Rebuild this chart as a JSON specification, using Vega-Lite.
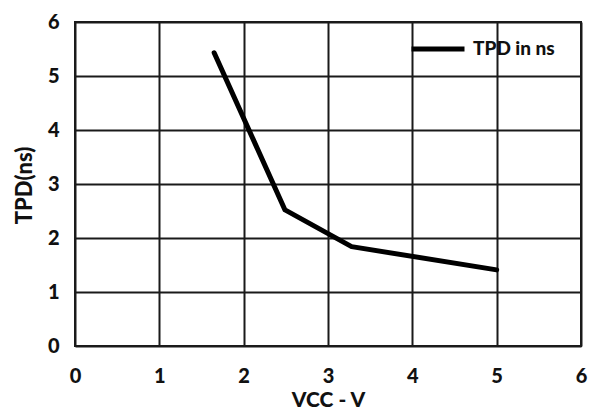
{
  "$schema": "https://vega.github.io/schema/vega-lite/v6.json",
  "width": 506,
  "height": 324,
  "autosize": {"type": "none"},
  "padding": {"left": 75, "top": 22, "right": 16, "bottom": 66},
  "background": "white",
  "config": {
    "font": "Lato",
    "view": {"stroke": "#1a1a1a", "strokeWidth": 2},
    "axis": {"gridColor": "#1a1a1a", "gridWidth": 2, "gridOpacity": 1, "domain": false, "ticks": false,
      "labelFont": "Lato", "labelFontWeight": 900, "labelFontSize": 20, "labelColor": "#111",
      "titleFont": "Lato", "titleFontWeight": 900, "titleFontSize": 22, "titleColor": "#111"}
  },
  "data": {"values": [
    {"vcc": 1.65, "tpd": 5.43, "series": "TPD in ns"},
    {"vcc": 2.49, "tpd": 2.52, "series": "TPD in ns"},
    {"vcc": 3.28, "tpd": 1.84, "series": "TPD in ns"},
    {"vcc": 5.0, "tpd": 1.41, "series": "TPD in ns"}
  ]},
  "mark": {"type": "line", "strokeWidth": 5, "strokeCap": "round", "strokeJoin": "round"},
  "encoding": {
    "x": {"field": "vcc", "type": "quantitative", "title": "VCC - V",
      "scale": {"domain": [0, 6], "nice": false, "zero": false},
      "axis": {"values": [0,1,2,3,4,5,6], "labelPadding": 20, "titleY": 64, "titleBaseline": "bottom", "titleFontSize": 21, "labelFlush": false}},
    "y": {"field": "tpd", "type": "quantitative", "title": "TPD(ns)",
      "scale": {"domain": [0, 6], "nice": false, "zero": false},
      "axis": {"values": [0,1,2,3,4,5,6], "labelPadding": 16, "titleX": -51, "titleY": 163, "titleBaseline": "middle", "titleAlign": "center", "titleAngle": -90, "labelFlush": false}},
    "color": {"field": "series", "type": "nominal", "scale": {"range": ["#000000"]},
      "legend": {"title": null, "orient": "none", "legendX": 334, "legendY": -2, "symbolType": "stroke", "symbolSize": 2809, "symbolStrokeWidth": 5, "labelFont": "Lato", "labelFontWeight": 900, "labelFontSize": 19, "labelColor": "#111", "labelOffset": 6}}
  }
}
